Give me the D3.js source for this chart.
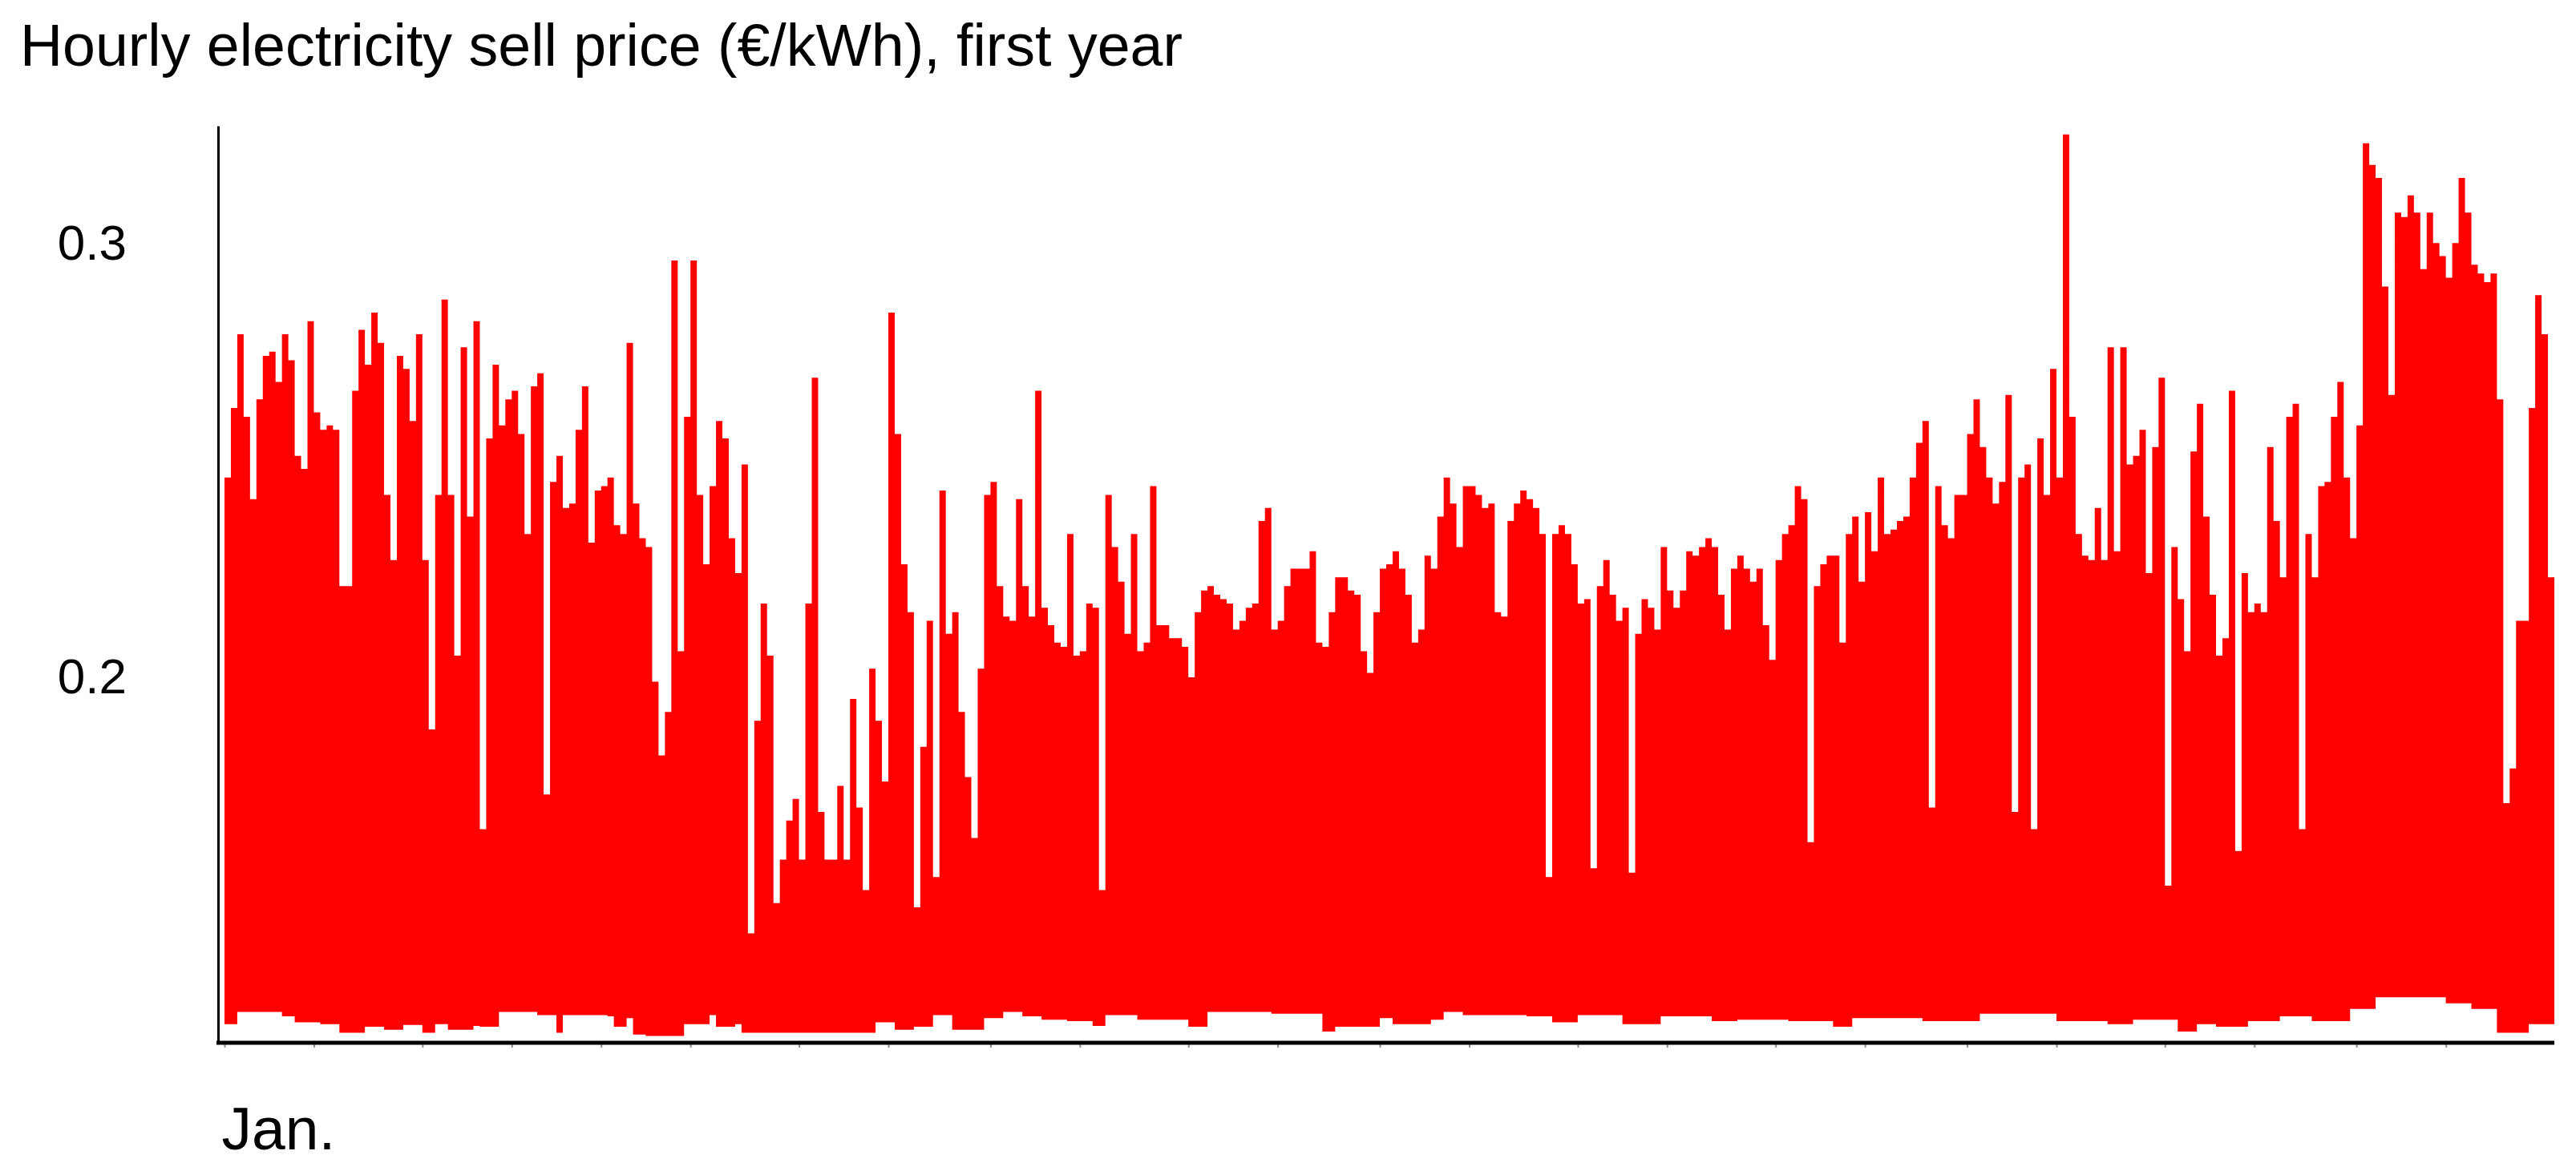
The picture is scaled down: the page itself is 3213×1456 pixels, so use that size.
<!DOCTYPE html>
<html>
<head>
<meta charset="utf-8">
<script src="https://cdn.jsdelivr.net/npm/d3@7"></script>
<style>
body { margin: 0; background: #fff; }
text { font-family: "Liberation Sans", Arial, sans-serif; }
</style>
</head>
<body>
<svg id="chart" width="3213" height="1456"></svg>
<script>
var title = "Hourly electricity sell price (€/kWh), first year";
var yTickValues = [0.2, 0.3];
var xTickLabels = ["Jan."];
var year = 2019;

// highest price reached each day (€/kWh)
var dailyMax = [
  0.246, 0.262, 0.279, 0.260, 0.241, 0.264, 0.274, 0.275, 0.268, 0.279,
  0.273, 0.251, 0.248, 0.282, 0.261, 0.257, 0.258, 0.257, 0.221, 0.221,
  0.266, 0.280, 0.272, 0.284, 0.277, 0.242, 0.227, 0.274, 0.271, 0.259,
  0.279, 0.227, 0.188, 0.242, 0.287, 0.242, 0.205, 0.276, 0.237, 0.282,
  0.165, 0.255, 0.272, 0.258, 0.264, 0.266, 0.256, 0.233, 0.267, 0.270,
  0.173, 0.245, 0.251, 0.239, 0.240, 0.257, 0.267, 0.231, 0.243, 0.244,
  0.246, 0.235, 0.233, 0.277, 0.240, 0.232, 0.230, 0.199, 0.182, 0.192,
  0.296, 0.206, 0.260, 0.296, 0.242, 0.226, 0.244, 0.259, 0.255, 0.232,
  0.224, 0.249, 0.141, 0.190, 0.217, 0.205, 0.148, 0.158, 0.167, 0.172,
  0.158, 0.217, 0.269, 0.169, 0.158, 0.158, 0.175, 0.158, 0.195, 0.170,
  0.151, 0.202, 0.190, 0.176, 0.284, 0.256, 0.226, 0.215, 0.147, 0.184,
  0.213, 0.154, 0.243, 0.210, 0.215, 0.192, 0.177, 0.163, 0.202, 0.242,
  0.245, 0.221, 0.214, 0.213, 0.241, 0.221, 0.214, 0.266, 0.216, 0.212,
  0.208, 0.207, 0.233, 0.205, 0.206, 0.217, 0.216, 0.151, 0.242, 0.230,
  0.222, 0.210, 0.233, 0.206, 0.208, 0.244, 0.212, 0.212, 0.209, 0.209,
  0.207, 0.200, 0.215, 0.220, 0.221, 0.219, 0.218, 0.217, 0.211, 0.213,
  0.216, 0.217, 0.236, 0.239, 0.211, 0.213, 0.221, 0.225, 0.225, 0.225,
  0.229, 0.208, 0.207, 0.215, 0.223, 0.223, 0.220, 0.219, 0.206, 0.201,
  0.215, 0.225, 0.226, 0.229, 0.225, 0.219, 0.208, 0.211, 0.228, 0.225,
  0.237, 0.246, 0.240, 0.230, 0.244, 0.244, 0.242, 0.239, 0.240, 0.215,
  0.214, 0.236, 0.240, 0.243, 0.241, 0.239, 0.233, 0.154, 0.233, 0.235,
  0.233, 0.226, 0.217, 0.218, 0.156, 0.221, 0.227, 0.219, 0.213, 0.216,
  0.155, 0.210, 0.218, 0.216, 0.211, 0.230, 0.220, 0.216, 0.220, 0.229,
  0.228, 0.230, 0.232, 0.230, 0.219, 0.211, 0.225, 0.228, 0.225, 0.222,
  0.225, 0.212, 0.204, 0.227, 0.233, 0.235, 0.244, 0.241, 0.162, 0.221,
  0.226, 0.228, 0.228, 0.208, 0.233, 0.237, 0.222, 0.238, 0.229, 0.246,
  0.233, 0.234, 0.236, 0.237, 0.246, 0.254, 0.259, 0.170, 0.244, 0.235,
  0.232, 0.242, 0.242, 0.256, 0.264, 0.253, 0.246, 0.240, 0.245, 0.265,
  0.169, 0.246, 0.249, 0.165, 0.255, 0.242, 0.271, 0.246, 0.325, 0.260,
  0.233, 0.228, 0.227, 0.239, 0.227, 0.276, 0.229, 0.276, 0.249, 0.251,
  0.257, 0.224, 0.253, 0.269, 0.152, 0.230, 0.218, 0.206, 0.252, 0.263,
  0.237, 0.219, 0.205, 0.209, 0.266, 0.160, 0.224, 0.215, 0.217, 0.215,
  0.253, 0.236, 0.223, 0.260, 0.263, 0.165, 0.233, 0.223, 0.244, 0.245,
  0.260, 0.268, 0.246, 0.232, 0.258, 0.323, 0.318, 0.315, 0.290, 0.265,
  0.307, 0.306, 0.311, 0.307, 0.294, 0.307, 0.300, 0.297, 0.292, 0.300,
  0.315, 0.307, 0.295, 0.293, 0.291, 0.293, 0.264, 0.171, 0.179, 0.213,
  0.213, 0.262, 0.288, 0.279, 0.223
];

// lowest price reached each day (€/kWh)
var dailyMin = [
  0.1201, 0.1201, 0.1229, 0.1229, 0.1229, 0.1229, 0.1229, 0.1229, 0.1229, 0.1219,
  0.1219, 0.1205, 0.1205, 0.1205, 0.1205, 0.1201, 0.1201, 0.1201, 0.1181, 0.1181,
  0.1181, 0.1181, 0.1195, 0.1195, 0.1195, 0.1188, 0.1188, 0.1188, 0.1199, 0.1199,
  0.1199, 0.1181, 0.1181, 0.1201, 0.1201, 0.1188, 0.1188, 0.1188, 0.1188, 0.1197,
  0.1195, 0.1195, 0.1195, 0.1229, 0.1229, 0.1229, 0.1229, 0.1229, 0.1229, 0.1222,
  0.1222, 0.1222, 0.1181, 0.1222, 0.1222, 0.1222, 0.1222, 0.1222, 0.1222, 0.1222,
  0.1219, 0.1195, 0.1195, 0.1215, 0.1177, 0.1177, 0.1174, 0.1174, 0.1174, 0.1174,
  0.1174, 0.1174, 0.1201, 0.1201, 0.1201, 0.1201, 0.1222, 0.1195, 0.1195, 0.1195,
  0.1201, 0.1181, 0.1181, 0.1181, 0.1181, 0.1181, 0.1181, 0.1181, 0.1181, 0.1181,
  0.1181, 0.1181, 0.1181, 0.1181, 0.1181, 0.1181, 0.1181, 0.1181, 0.1181, 0.1181,
  0.1181, 0.1181, 0.1205, 0.1205, 0.1205, 0.1188, 0.1188, 0.1188, 0.1195, 0.1195,
  0.1195, 0.1222, 0.1222, 0.1222, 0.1188, 0.1188, 0.1188, 0.1188, 0.1188, 0.1215,
  0.1215, 0.1215, 0.1229, 0.1229, 0.1229, 0.1219, 0.1219, 0.1219, 0.1211, 0.1211,
  0.1211, 0.1211, 0.1208, 0.1208, 0.1208, 0.1208, 0.1197, 0.1197, 0.1222, 0.1222,
  0.1222, 0.1222, 0.1222, 0.1211, 0.1211, 0.1211, 0.1211, 0.1211, 0.1211, 0.1211,
  0.1211, 0.1195, 0.1195, 0.1195, 0.1229, 0.1229, 0.1229, 0.1229, 0.1229, 0.1229,
  0.1229, 0.1229, 0.1229, 0.1229, 0.1225, 0.1225, 0.1225, 0.1225, 0.1225, 0.1225,
  0.1225, 0.1225, 0.1184, 0.1184, 0.1195, 0.1195, 0.1195, 0.1195, 0.1195, 0.1195,
  0.1195, 0.1215, 0.1215, 0.1201, 0.1201, 0.1201, 0.1201, 0.1201, 0.1201, 0.1211,
  0.1211, 0.1229, 0.1229, 0.1229, 0.1222, 0.1222, 0.1222, 0.1222, 0.1222, 0.1222,
  0.1222, 0.1222, 0.1222, 0.1222, 0.1219, 0.1219, 0.1219, 0.1219, 0.1205, 0.1205,
  0.1205, 0.1205, 0.1222, 0.1222, 0.1222, 0.1222, 0.1222, 0.1222, 0.1222, 0.1201,
  0.1201, 0.1201, 0.1201, 0.1201, 0.1201, 0.1219, 0.1219, 0.1219, 0.1219, 0.1219,
  0.1219, 0.1219, 0.1219, 0.1208, 0.1208, 0.1208, 0.1208, 0.1211, 0.1211, 0.1211,
  0.1211, 0.1211, 0.1211, 0.1211, 0.1211, 0.1208, 0.1208, 0.1208, 0.1208, 0.1208,
  0.1208, 0.1208, 0.1195, 0.1195, 0.1195, 0.1215, 0.1215, 0.1215, 0.1215, 0.1215,
  0.1215, 0.1215, 0.1215, 0.1215, 0.1215, 0.1215, 0.1208, 0.1208, 0.1208, 0.1208,
  0.1208, 0.1208, 0.1208, 0.1208, 0.1208, 0.1225, 0.1225, 0.1225, 0.1225, 0.1225,
  0.1225, 0.1225, 0.1225, 0.1225, 0.1225, 0.1225, 0.1225, 0.1208, 0.1208, 0.1208,
  0.1208, 0.1208, 0.1208, 0.1208, 0.1208, 0.1201, 0.1201, 0.1201, 0.1201, 0.1211,
  0.1211, 0.1211, 0.1211, 0.1211, 0.1211, 0.1211, 0.1184, 0.1184, 0.1184, 0.1201,
  0.1201, 0.1201, 0.1195, 0.1195, 0.1195, 0.1195, 0.1195, 0.1208, 0.1208, 0.1208,
  0.1208, 0.1208, 0.1219, 0.1219, 0.1219, 0.1219, 0.1219, 0.1208, 0.1208, 0.1208,
  0.1208, 0.1208, 0.1208, 0.1236, 0.1236, 0.1236, 0.1236, 0.1263, 0.1263, 0.1263,
  0.1263, 0.1263, 0.1263, 0.1263, 0.1263, 0.1263, 0.1263, 0.1263, 0.1249, 0.1249,
  0.1249, 0.1249, 0.1236, 0.1236, 0.1236, 0.1236, 0.1181, 0.1181, 0.1181, 0.1181,
  0.1181, 0.1201, 0.1201, 0.1201, 0.1201
];

var svg = d3.select("#chart"),
    margin = {top: 157, right: 27, bottom: 156, left: 272},
    width = +svg.attr("width"),
    height = +svg.attr("height");

var start = new Date(Date.UTC(year, 0, 1)),
    end = new Date(Date.UTC(year + 1, 0, 1));

var x = d3.scaleUtc()
    .domain([start, end])
    .range([margin.left + 8, width - margin.right]);

var y = d3.scaleLinear()
    .domain([0.116, 0.327])
    .range([height - margin.bottom, margin.top]);

var days = dailyMax.map(function(v, i) {
  return {date: d3.utcDay.offset(start, i), max: v, min: dailyMin[i]};
});
// close the last step at the end of the year
days.push({date: end, max: dailyMax[dailyMax.length - 1], min: dailyMin[dailyMin.length - 1]});

var area = d3.area()
    .curve(d3.curveStepAfter)
    .x(function(d) { return x(d.date); })
    .y0(function(d) { return y(d.min); })
    .y1(function(d) { return y(d.max); });

svg.append("path")
    .datum(days)
    .attr("fill", "#ff0000")
    .attr("d", area);

// ticks on the 1st and 15th of every month
var xTicks = [];
d3.utcMonths(start, end).forEach(function(m) {
  xTicks.push(m);
  xTicks.push(d3.utcDay.offset(m, 14));
});

var axisY = height - margin.bottom + 1;

var gx = svg.append("g")
    .attr("transform", "translate(0," + axisY + ")")
    .call(d3.axisBottom(x)
      .tickValues(xTicks)
      .tickSizeInner(6)
      .tickSizeOuter(0)
      .tickFormat(function(d, i) { return i === 0 ? xTickLabels[0] : ""; }));

gx.select(".domain").remove();
gx.selectAll(".tick line").attr("stroke", "#8c8c8c").attr("stroke-width", 2);
gx.selectAll(".tick text")
    .attr("font-size", 75)
    .attr("fill", "#000")
    .attr("text-anchor", "start")
    .attr("x", -4)
    .attr("y", 133)
    .attr("dy", null);

svg.append("line")
    .attr("x1", margin.left - 2)
    .attr("x2", x.range()[1])
    .attr("y1", axisY)
    .attr("y2", axisY)
    .attr("stroke", "#000")
    .attr("stroke-width", 5);

var gy = svg.append("g")
    .attr("transform", "translate(" + margin.left + ",0)")
    .call(d3.axisLeft(y)
      .tickValues(yTickValues)
      .tickSizeInner(0)
      .tickSizeOuter(0)
      .tickPadding(114)
      .tickFormat(d3.format(".1f")));

gy.select(".domain").attr("stroke", "#000").attr("stroke-width", 3);
gy.selectAll(".tick text").attr("font-size", 62).attr("fill", "#000");

svg.append("text")
    .attr("x", 25)
    .attr("y", 82)
    .attr("font-size", 73.5)
    .attr("fill", "#000")
    .text(title);
</script>
</body>
</html>
